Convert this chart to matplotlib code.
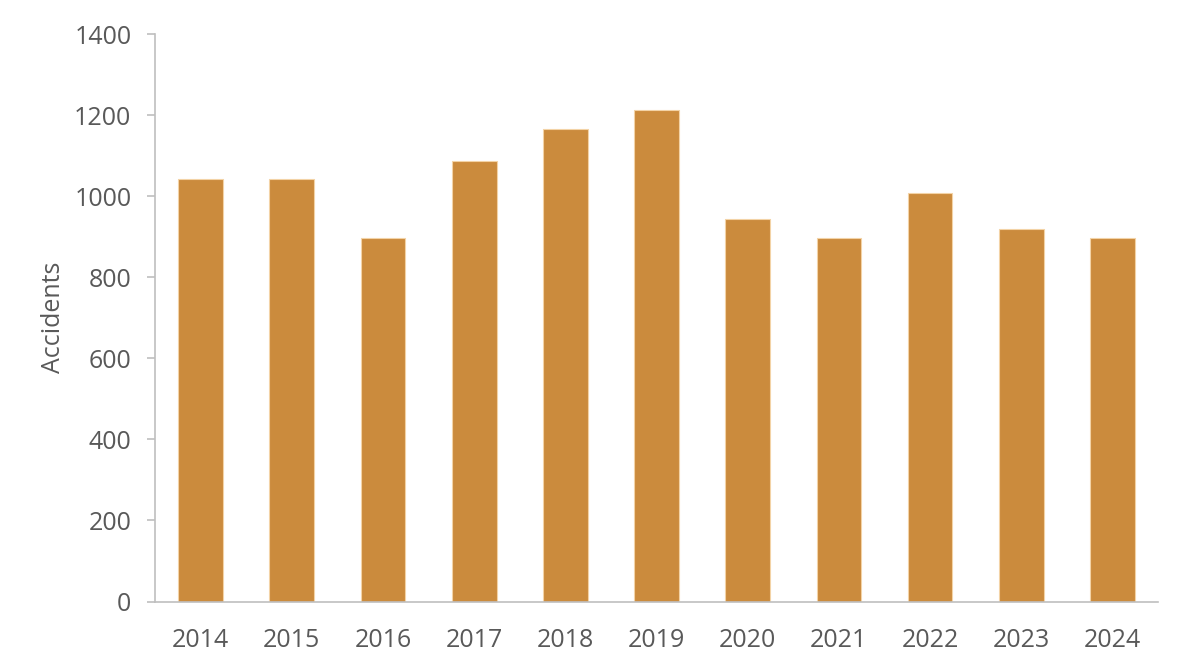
import matplotlib
matplotlib.use("Agg")
import matplotlib.pyplot as plt

years = ["2014", "2015", "2016", "2017", "2018", "2019", "2020", "2021", "2022", "2023", "2024"]
accidents = [1042, 1042, 897, 1086, 1165, 1212, 943, 897, 1008, 918, 897]
yticks = [0, 200, 400, 600, 800, 1000, 1200, 1400]

plt.rcParams['font.family'] = ['Open Sans', 'DejaVu Sans']

fig = plt.figure(figsize=(12, 6.72), dpi=100)
ax = fig.add_axes([0.1292, 0.1049, 0.8358, 0.8445])

x = list(range(len(years)))
ax.bar(x, accidents, width=0.49, color="#CB8B3D", edgecolor="#F3D3A6", linewidth=0.8)

ax.set_xlim(-0.5, len(years) - 0.5)
ax.set_ylim(0, 1400)
ax.set_yticks(yticks)
ax.set_xticks(x)
ax.set_xticklabels(years)

for s in ["top", "right"]:
    ax.spines[s].set_visible(False)
for s in ["left", "bottom"]:
    ax.spines[s].set_color("#BFBFBF")
    ax.spines[s].set_linewidth(1.2)

ax.tick_params(axis="y", length=6, width=1.2, color="#BFBFBF", labelsize=18, labelcolor="#595959", pad=11)
ax.tick_params(axis="x", length=0, labelsize=18, labelcolor="#595959", pad=19)
ax.set_ylabel("Accidents", fontsize=18, color="#595959", labelpad=6)

fig.savefig("out.png", dpi=100)
